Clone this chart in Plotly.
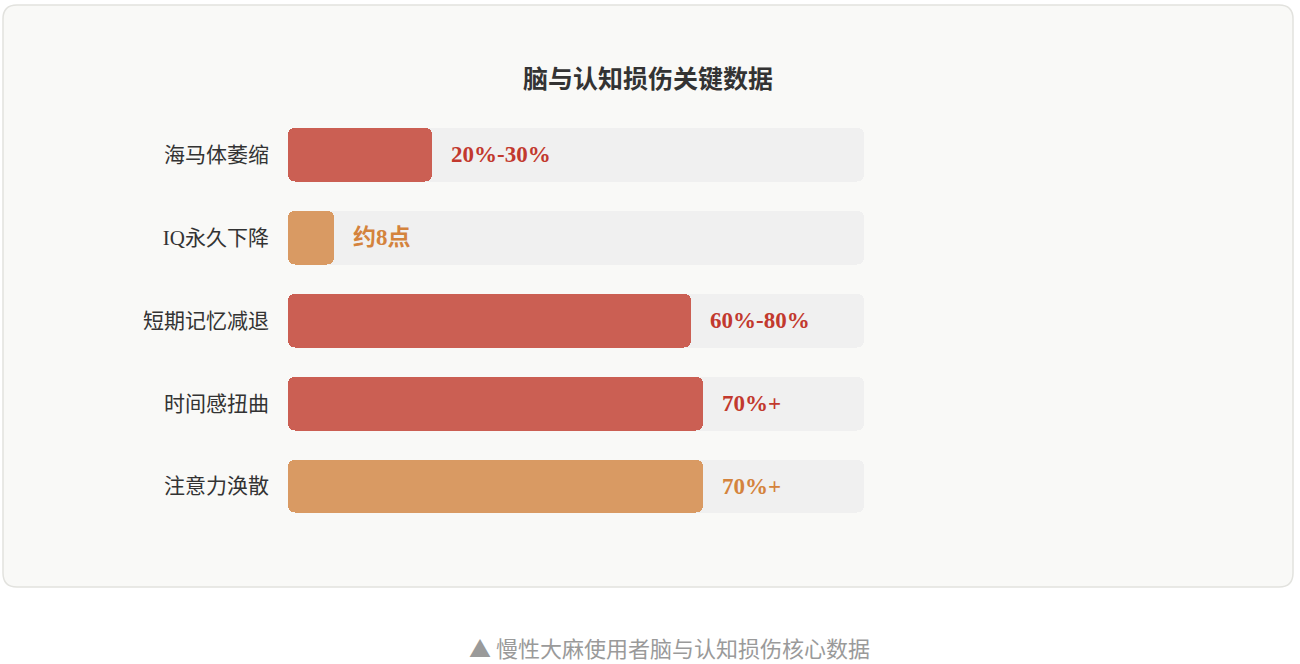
import plotly.graph_objects as go

# data
categories = ["海马体萎缩", "IQ永久下降", "短期记忆减退", "时间感扭曲", "注意力涣散"]
values = [25, 8, 70, 72, 72]
value_labels = ["20%-30%", "约8点", "60%-80%", "70%+", "70%+"]
tones = ["red", "orange", "red", "red", "orange"]
track_max = 100

W, H = 1300, 664
bar_fill = {"red": "#cb5f53", "orange": "#d99a63"}
text_fill = {"red": "#c2392e", "orange": "#d4833d"}
serif = "Liberation Serif, DejaVu Serif, Noto Sans CJK SC, serif"


def px(x, y):
    return f"{x / W:.5f},{1 - y / H:.5f}"


def rounded_rect(x0, y0, x1, y1, r):
    return (
        f"M{px(x0 + r, y0)} L{px(x1 - r, y0)} Q{px(x1, y0)} {px(x1, y0 + r)} "
        f"L{px(x1, y1 - r)} Q{px(x1, y1)} {px(x1 - r, y1)} "
        f"L{px(x0 + r, y1)} Q{px(x0, y1)} {px(x0, y1 - r)} "
        f"L{px(x0, y0 + r)} Q{px(x0, y0)} {px(x0 + r, y0)} Z"
    )


fig = go.Figure()

# background tracks
fig.add_trace(go.Bar(
    y=categories, x=[track_max] * len(categories), base=[0] * len(categories),
    orientation="h", width=0.65,
    marker=dict(color="#f0f0f0", line_width=0, cornerradius=7),
    hoverinfo="skip", showlegend=False,
))

# value bars
fig.add_trace(go.Bar(
    y=categories, x=values, base=[0] * len(categories), orientation="h", width=0.65,
    marker=dict(color=[bar_fill[t] for t in tones], line_width=0, cornerradius=7),
    hoverinfo="skip", showlegend=False,
))

for cat, v, lab, t in zip(categories, values, value_labels, tones):
    fig.add_annotation(
        x=v, y=cat, text=f"<b>{lab}</b>", showarrow=False, xanchor="left", yanchor="middle",
        xshift=17, font=dict(family=serif, size=23, color=text_fill[t]),
    )

fig.add_annotation(
    x=648 / W, y=1 - 79 / H, xref="paper", yref="paper", text="<b>脑与认知损伤关键数据</b>",
    showarrow=False, xanchor="center", yanchor="middle",
    font=dict(family=serif, size=25, color="#333333"),
)
fig.add_annotation(
    x=670 / W, y=1 - 647 / H, xref="paper", yref="paper", text="▲ 慢性大麻使用者脑与认知损伤核心数据",
    showarrow=False, xanchor="center", yanchor="middle",
    font=dict(family="Noto Sans CJK SC, sans-serif", size=22, color="#9a9a9a"),
)

fig.add_shape(
    type="path", xref="paper", yref="paper", layer="below",
    path=rounded_rect(3, 5, 1293, 587, 14),
    fillcolor="#f9f9f7", line=dict(color="#e2e2de", width=1.5),
)

fig.update_layout(
    width=W, height=H, margin=dict(l=0, r=0, t=0, b=0),
    paper_bgcolor="#ffffff", plot_bgcolor="rgba(0,0,0,0)",
    barmode="overlay", bargap=0,
    xaxis=dict(domain=[288 / W, 864 / W], range=[0, track_max], visible=False, fixedrange=True),
    yaxis=dict(
        domain=[1 - 527.4 / H, 1 - 113.6 / H], autorange="reversed", showgrid=False,
        zeroline=False, showline=False, ticks="", ticklabelstandoff=18,
        tickfont=dict(family=serif, size=21, color="#333333"), fixedrange=True,
    ),
)

fig.write_html(
    "out.html", config={"displayModeBar": False},
    post_script="document.body.style.margin = '0';",
)
